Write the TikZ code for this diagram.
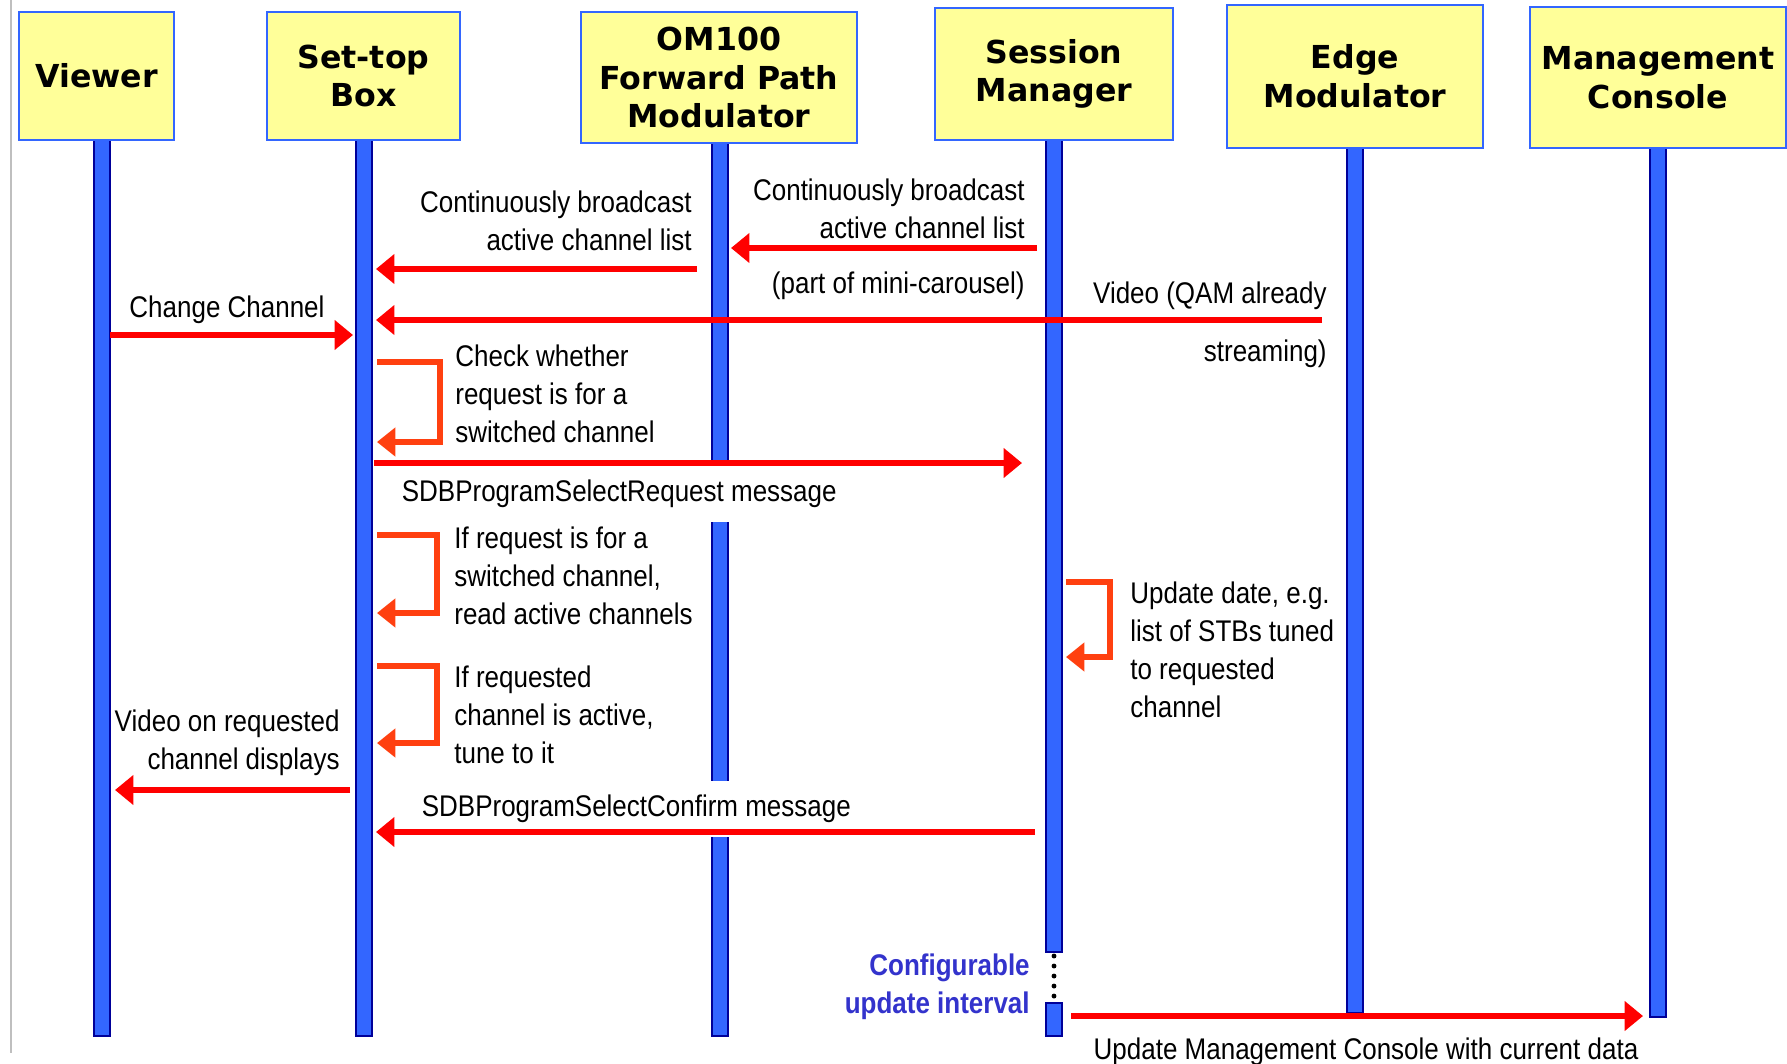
\documentclass[tikz,border=0pt]{standalone}
\usepackage{fontspec}
\usetikzlibrary{arrows.meta}
\newfontfamily\narrowfont{Liberation Sans}[FakeStretch=0.87]
\newfontfamily\headfont{DejaVu Sans}
\definecolor{headfill}{HTML}{FFFF99}
\definecolor{headline}{HTML}{3366FF}
\definecolor{lifefill}{HTML}{3366FF}
\definecolor{lifeline}{HTML}{000099}
\definecolor{msgred}{HTML}{FF0000}
\definecolor{selfred}{HTML}{FF4010}
\definecolor{notecol}{HTML}{3333CC}

\begin{document}
\begin{tikzpicture}[x=0.02cm, y=-0.02cm,
	every node/.style={font=\narrowfont\fontsize{17}{21.6}\selectfont, inner sep=0pt},
	head/.style={draw=headline, line width=1.6pt, fill=headfill, align=center,
		font=\headfont\bfseries\fontsize{18}{22}\selectfont},
	life/.style={draw=lifeline, line width=1.1pt, fill=lifefill},
	msg/.style={draw=msgred, line width=3.4pt, -{Triangle[length=10.5pt, width=16.5pt]}},
	selfmsg/.style={draw=selfred, line width=3.1pt, -{Triangle[length=10.5pt, width=16pt]}},
	gaplabel/.style={fill=white, inner ysep=8pt, inner xsep=2pt}]
	\useasboundingbox (0,0) rectangle (1787,1064);
	\draw[gray!50, line width=1.6pt] (11,0) -- (11,1053);
	% lifelines
	\foreach \x/\t/\e in {102/140/1036, 364/140/1036, 720/143/1036, 1355/148/1013, 1658/148/1017}
		\draw[life] (\x-8,\t) rectangle (\x+8,\e);
	\draw[life] (1046,140) rectangle (1062,952);
	\draw[life] (1046,1003) rectangle (1062,1036);
	\draw[black, line width=2.8pt, line cap=round, dash pattern=on 0pt off 5.7pt] (1054,956) -- (1054,998);
	% header boxes
	\node[head, minimum width=155*0.569pt, minimum height=128*0.569pt] (viewer) at (96.5,76) {Viewer};
	\node[head, minimum width=193*0.569pt, minimum height=128*0.569pt] (stb) at (363.5,76) {Set-top\\Box};
	\node[head, minimum width=276*0.569pt, minimum height=131*0.569pt] (om) at (719,77.5) {OM100\\Forward Path\\Modulator};
	\node[head, minimum width=238*0.569pt, minimum height=132*0.569pt] (sm) at (1054,74) {Session\\Manager};
	\node[head, minimum width=256*0.569pt, minimum height=143*0.569pt] (em) at (1355,76.5) {Edge\\Modulator};
	\node[head, minimum width=256*0.569pt, minimum height=141*0.569pt] (mc) at (1658,77.5) {Management\\Console};
	% message labels
	\node[anchor=east, align=right] (t1) at (692,221) {Continuously broadcast\\active channel list};
	\node[anchor=east, align=right] (t2) at (1025,209) {Continuously broadcast\\active channel list};
	\node[anchor=east] (t3) at (1025,286) {(part of mini-carousel)};
	\node[anchor=east] (t4) at (1327,296) {Video (QAM already};
	\node[anchor=east] (t5) at (1327,354) {streaming)};
	\node (t6) at (227,310) {Change Channel};
	\node[anchor=west, align=left] (t7) at (455,394) {Check whether\\request is for a\\switched channel};
	\node[anchor=west, gaplabel] (t8) at (398,494) {SDBProgramSelectRequest message};
	\node[anchor=west, align=left] (t9) at (454,576) {If request is for a\\switched channel,\\read active channels};
	\node[anchor=west, align=left] (t10) at (454,715) {If requested\\channel is active,\\tune to it};
	\node[anchor=west, align=left] (t11) at (1130,650) {Update date, e.g.\\list of STBs tuned\\to requested\\channel};
	\node[anchor=east, align=right] (t12) at (340,743) {Video on requested\\channel displays};
	\node[anchor=west, gaplabel] (t13) at (418,809) {SDBProgramSelectConfirm message};
	\node[anchor=east, align=right, text=notecol, font=\narrowfont\bfseries\fontsize{17}{21.6}\selectfont] (t14) at (1030,987) {Configurable\\update interval};
	\node (t15) at (1366,1052) {Update Management Console with current data};
	% message end points
	\coordinate (a1s) at (697,269);  \coordinate (a1e) at (376,269);
	\coordinate (a2s) at (1037,248); \coordinate (a2e) at (731,248);
	\coordinate (a3s) at (1322,320); \coordinate (a3e) at (376,320);
	\coordinate (a4s) at (110,335);  \coordinate (a4e) at (353,335);
	\coordinate (a6s) at (374,463);  \coordinate (a6e) at (1022,463);
	\coordinate (a10s) at (350,790); \coordinate (a10e) at (115,790);
	\coordinate (a11s) at (1035,832); \coordinate (a11e) at (376,832);
	\coordinate (a12s) at (1071,1016); \coordinate (a12e) at (1643,1016);
	\foreach \s/\e in {a1s/a1e, a2s/a2e, a3s/a3e, a4s/a4e, a6s/a6e, a10s/a10e, a11s/a11e, a12s/a12e}
		\draw[msg] (\s) -- (\e);
	% self messages
	\coordinate (s1) at (377,362);  \coordinate (s1e) at (377,442);
	\coordinate (s2) at (377,535);  \coordinate (s2e) at (377,613);
	\coordinate (s3) at (377,666);  \coordinate (s3e) at (377,743);
	\coordinate (s4) at (1066,582); \coordinate (s4e) at (1066,657);
	\foreach \s/\e/\w in {s1/s1e/63, s2/s2e/60, s3/s3e/60, s4/s4e/44}
		\draw[selfmsg] (\s) -- ++(\w,0) |- (\e);
\end{tikzpicture}
\end{document}
